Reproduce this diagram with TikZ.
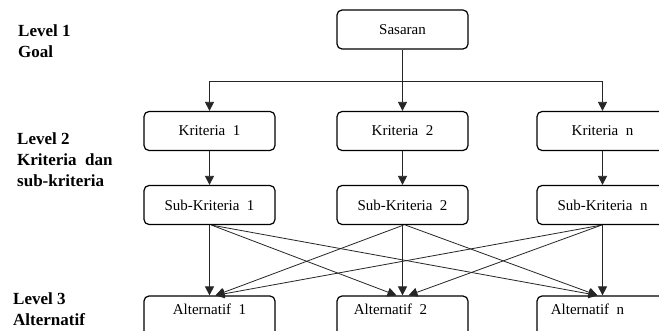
\documentclass[tikz,border=0pt]{standalone}
\usepackage{fontspec}
\setmainfont{Liberation Serif}
\usetikzlibrary{arrows.meta,calc}
\begin{document}
\begin{tikzpicture}[x=1pt,y=-1pt,
  box/.style={draw=black,line width=1.2pt,rounded corners=5pt,minimum width=131pt,minimum height=39pt,inner sep=0pt,font=\fontsize{15}{18}\selectfont},
  altbox/.style={box,text height=19pt,text depth=21pt},
  lvl/.style={anchor=north west,align=left,inner sep=0pt,font=\fontsize{17}{21}\selectfont\bfseries},
  arr/.style={draw=black!85,line width=0.8pt,-{Triangle[length=9pt,width=9pt]}},
  ln/.style={draw=black!85,line width=0.8pt}]
\clip (0,0) rectangle (659,331);
\fill[white] (0,0) rectangle (659,331);
% level labels
\node[lvl] (l1) at (18,25) {Level 1\\Goal};
\node[lvl] (l2) at (17,133) {Level 2\\Kriteria~ dan\\sub-kriteria};
\node[lvl] (l3) at (13,293) {Level 3\\Alternatif};
% boxes
\node[box] (sas) at (402.5,29.5) {Sasaran};
\node[box] (k1) at (209.5,131) {Kriteria~ 1};
\node[box] (k2) at (402.5,131) {Kriteria~ 2};
\node[box] (k3) at (602.5,131) {Kriteria~ n};
\node[box] (s1) at (209.5,205) {Sub-Kriteria~ 1};
\node[box] (s2) at (402.5,205) {Sub-Kriteria~ 2};
\node[box] (s3) at (602.5,205) {Sub-Kriteria~ n};
\node[altbox] (a1) at (209.5,316) {Alternatif~ 1};
\node[altbox] (a2) at (402.5,316) {Alternatif~ 2\hspace*{24pt}};
\node[altbox] (a3) at (602.5,316) {Alternatif~ n\hspace*{30pt}};
% top connectors
\coordinate (j) at ($(sas.south)+(0,32)$);
\draw[ln] (sas.south) -- (j);
\draw[arr] (j) -- (k2.north);
\draw[arr] (j) -| (k1.north);
\draw[arr] (j) -| (k3.north);
\draw[arr] (k1) -- (s1);
\draw[arr] (k2) -- (s2);
\draw[arr] (k3) -- (s3);
% bottom connectors
\draw[arr] (s1.south) -- (a1.north);
\draw[arr] (s2.south) -- (a2.north);
\draw[arr] (s3.south) -- (a3.north);
\draw[arr] ([xshift=2pt]s1.south) -- ([xshift=-6pt]a2.north);
\draw[arr] ([xshift=2pt]s1.south) -- ([xshift=-5pt]a3.north);
\draw[arr] ([xshift=1pt]s2.south) -- ([xshift=6pt]a1.north);
\draw[arr] ([xshift=3pt]s2.south) -- ([xshift=-5pt]a3.north);
\draw[arr] ([xshift=-1pt]s3.south) -- ([xshift=6pt]a1.north);
\draw[arr] ([xshift=-1pt]s3.south) -- ([xshift=6pt]a2.north);
\end{tikzpicture}
\end{document}
